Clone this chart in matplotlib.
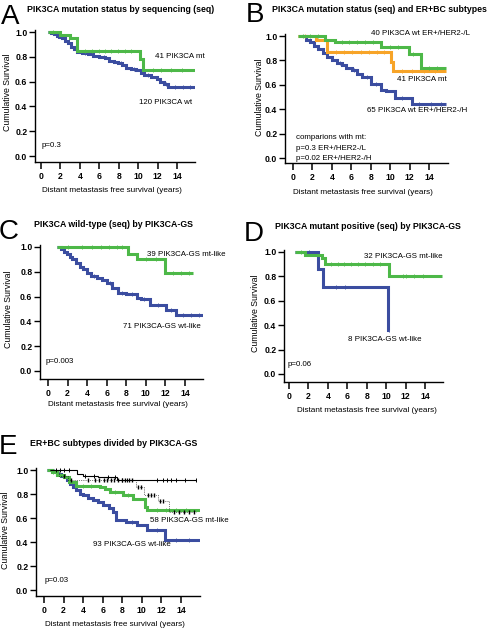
import numpy as np
import matplotlib
matplotlib.use("Agg")
import matplotlib.pyplot as plt

plt.rcParams['font.family'] = ['Liberation Sans', 'DejaVu Sans']

BLUE = '#3B4DA0'
GREEN = '#4DB848'
ORANGE = '#F7A428'

# ---- dados (anos, sobrevida) ----
# A
A_mt_t = [0.7, 2.0, 3.0, 3.7, 10.2, 10.5, 15.9]
A_mt_s = [1.0, 0.975, 0.95, 0.85, 0.78, 0.69, 0.69]
A_mt_c = [1.2, 4.5, 5.3, 6.0, 6.6, 7.2, 7.9, 8.6, 9.3, 11.5, 12.4, 13.4, 14.5]
A_wt_t = [0.7, 1.0, 1.3, 1.6, 1.9, 2.2, 2.5, 2.8, 3.1, 3.4, 3.7, 4.2, 4.8, 5.4, 6.0, 6.6,
          7.0, 7.5, 7.9, 8.3, 8.8, 9.3, 9.8, 10.3, 10.6, 11.3, 11.9, 12.3, 12.7, 13.1, 15.9]
A_wt_s = [1.0, 0.99, 0.98, 0.97, 0.96, 0.95, 0.93, 0.91, 0.88, 0.86, 0.84, 0.83, 0.82, 0.81, 0.80, 0.79,
          0.77, 0.76, 0.75, 0.73, 0.71, 0.70, 0.69, 0.67, 0.65, 0.64, 0.62, 0.60, 0.58, 0.56, 0.56]
A_wt_c = [1.5, 4.5, 6.5, 8.2, 9.6, 11.0, 12.9, 13.8, 14.6, 15.3]

# B
B_L_t = [0.5, 3.3, 4.3, 9.1, 11.9, 13.2, 15.8]
B_L_s = [1.0, 0.97, 0.95, 0.91, 0.85, 0.74, 0.74]
B_L_c = [1.0, 1.8, 2.6, 5.0, 5.8, 6.6, 7.4, 8.2, 10.0, 10.8, 12.4, 14.0, 14.8]
B_mt_t = [0.5, 2.4, 3.5, 10.1, 10.3, 15.8]
B_mt_s = [1.0, 0.97, 0.87, 0.79, 0.71, 0.71]
B_mt_c = [1.2, 4.4, 5.3, 6.1, 7.0, 7.8, 8.6, 9.4, 11.2, 12.3, 13.5, 14.6]
B_H_t = [0.9, 1.3, 1.75, 2.2, 2.6, 3.1, 3.5, 4.0, 4.5, 5.0, 5.5, 6.05, 6.6, 7.1, 8.0,
         9.1, 9.6, 10.5, 12.2, 15.8]
B_H_s = [1.0, 0.97, 0.95, 0.92, 0.89, 0.86, 0.83, 0.80, 0.78, 0.76, 0.74, 0.72, 0.69, 0.66, 0.61,
         0.56, 0.55, 0.49, 0.44, 0.44]
B_H_c = [4.8, 6.3, 7.6, 8.5, 11.2, 13.0, 14.2, 15.2]

# C
C_mt_t = [0.95, 8.2, 9.05, 12.0, 14.8]
C_mt_s = [1.0, 0.94, 0.90, 0.79, 0.79]
C_mt_c = [2.0, 3.5, 4.5, 5.4, 6.2, 7.0, 7.6, 10.0, 11.0, 12.8, 13.6, 14.4]
C_wt_t = [0.95, 1.3, 1.6, 1.9, 2.2, 2.5, 2.9, 3.3, 3.6, 3.95, 4.4, 5.0, 5.5, 6.0, 6.5,
          7.2, 8.0, 9.06, 9.5, 10.4, 12.1, 13.1, 15.9]
C_wt_s = [1.0, 0.98, 0.96, 0.94, 0.92, 0.90, 0.87, 0.84, 0.82, 0.79, 0.77, 0.75, 0.73, 0.71, 0.67,
          0.63, 0.62, 0.59, 0.58, 0.53, 0.49, 0.45, 0.45]
C_wt_c = [4.7, 6.3, 7.6, 8.6, 9.8, 11.2, 12.6, 13.8, 14.6, 15.4]

# D
D_mt_t = [0.6, 1.65, 3.4, 3.7, 10.3, 15.8]
D_mt_s = [1.0, 0.975, 0.95, 0.90, 0.80, 0.80]
D_mt_c = [1.2, 4.3, 5.0, 5.7, 6.4, 7.1, 7.8, 8.6, 9.4, 11.7, 12.0, 12.9, 13.8]
D_wt_t = [0.6, 3.0, 3.5, 10.2, 10.3]
D_wt_s = [1.0, 0.86, 0.71, 0.36, 0.36]
D_wt_c = [2.1, 4.8, 5.8, 10.3]

# E
E_wt_t = [0.3, 0.8, 1.3, 1.7, 2.0, 2.3, 2.7, 3.0, 3.3, 3.7, 4.0, 4.5, 5.0, 5.5, 6.06, 6.6,
          7.1, 7.4, 8.4, 9.5, 10.5, 12.4, 15.9]
E_wt_s = [1.0, 0.99, 0.97, 0.95, 0.94, 0.92, 0.88, 0.86, 0.83, 0.80, 0.79, 0.77, 0.75, 0.73, 0.71, 0.68,
          0.65, 0.58, 0.57, 0.54, 0.50, 0.42, 0.42]
E_wt_c = [1.0, 1.5, 9.0, 11.5, 13.5, 14.8]
E_mt_t = [0.3, 0.8, 1.3, 2.0, 2.6, 3.3, 5.7, 6.2, 6.7, 8.1, 9.1, 10.3, 10.5, 15.9]
E_mt_s = [1.0, 0.98, 0.96, 0.94, 0.90, 0.87, 0.86, 0.84, 0.82, 0.79, 0.76, 0.69, 0.67, 0.67]
E_mt_c = [0.9, 1.6, 4.0, 4.8, 7.3, 8.6, 11.5, 12.5, 13.5, 14.5]
E_L_t = [0.6, 3.4, 4.0, 5.5, 7.5, 15.5]
E_L_s = [1.0, 0.97, 0.95, 0.94, 0.92, 0.92]
E_L_c = [1.2, 1.6, 2.0, 2.6, 4.2, 5.1, 6.5, 7.3, 8.0, 8.5, 11.5, 12.2, 12.6, 13.0, 13.5, 14.4, 15.5]
E_H_t = [0.6, 1.5, 2.5, 9.4, 10.2, 11.6, 12.8, 15.5]
E_H_s = [1.0, 0.95, 0.92, 0.86, 0.79, 0.74, 0.65, 0.65]
E_H_c = [2.0, 2.8, 4.5, 5.2, 5.6, 6.1, 6.4, 6.8, 7.2, 7.6, 8.0, 8.3, 8.7, 9.0, 9.6, 9.9,
         10.6, 10.9, 11.2, 11.9, 12.2, 13.3, 13.8, 14.3, 14.8, 15.3]

xticks = [0, 2, 4, 6, 8, 10, 12, 14]
yticks = [0.0, 0.2, 0.4, 0.6, 0.8, 1.0]

W, H = 488, 630
fig = plt.figure(figsize=(W / 100, H / 100), dpi=100)


def painel(spine_x, x_end, x0, x14, y1, y0, xaxis):
    # eixo posicionado em pixels
    top = y1 - 6
    ax = fig.add_axes([spine_x / W, 1 - xaxis / H, (x_end - spine_x) / W, (xaxis - top) / H])
    sx = (x14 - x0) / 14.0
    sy = (y0 - y1)
    ax.set_xlim((spine_x - x0) / sx, (x_end - x0) / sx)
    ymin = -(xaxis - y0) / sy
    ax.set_ylim(ymin, (y0 - top) / sy)
    ax.spines['top'].set_visible(False)
    ax.spines['right'].set_visible(False)
    ax.spines['left'].set_bounds(ymin, 1.02)
    for sp in ['left', 'bottom']:
        ax.spines[sp].set_linewidth(1.0)
    ax.set_xticks(xticks)
    ax.set_yticks(yticks)
    ax.set_yticklabels(['%.1f' % v for v in yticks])
    ax.tick_params(axis='x', length=5, width=1.1, pad=2, labelsize=6.2)
    ax.tick_params(axis='y', length=4, width=1.0, pad=1.5, labelsize=6.2)
    for lab in ax.get_xticklabels() + ax.get_yticklabels():
        lab.set_fontweight('bold')
    ax.patch.set_visible(False)
    return ax


def km(ax, t, s, cor, lw=2.2, cens=None, ls='-', ms=3.0, mew=0.6):
    t = np.array(t)
    s = np.array(s)
    ax.step(t, s, where='post', color=cor, lw=lw, ls=ls, solid_joinstyle='miter',
            solid_capstyle='butt')
    if cens is not None:
        c = np.array(cens)
        y = s[np.searchsorted(t, c, side='right') - 1]
        ax.plot(c, y, '|', color=cor, ms=ms, mew=mew)


def txt(x, y, s, **kw):
    fig.text(x / W, 1 - y / H, s, **kw)


def rotulos(letra, lx, ly, titulo, tx, ty, ylx, yly, xlx, xly):
    txt(lx, ly, letra, fontsize=20, ha='center', va='center')
    txt(tx, ty, titulo, fontsize=6.3, fontweight='bold', ha='left', va='center')
    txt(ylx, yly, 'Cumulative Survival', fontsize=6.3, rotation=90, ha='center', va='center')
    txt(xlx, xly, 'Distant metastasis free survival (years)', fontsize=5.9, ha='center', va='center')


ann = dict(fontsize=5.7, ha='left', va='center')

# A
ax = painel(35, 195, 41, 177, 32, 156, 162)
km(ax, A_wt_t, A_wt_s, BLUE, cens=A_wt_c)
km(ax, A_mt_t, A_mt_s, GREEN, cens=A_mt_c)
ax.text(11.75, 0.80, '41 PIK3CA mt', **ann)
ax.text(10.1, 0.43, '120 PIK3CA wt', **ann)
ax.text(0.05, 0.083, 'p=0.3', **ann)
rotulos('A', 10, 17, 'PIK3CA mutation status by sequencing (seq)', 27, 10, 8, 92, 112, 190)

# B
ax = painel(285, 448, 293, 429, 36, 158, 163)
km(ax, B_H_t, B_H_s, BLUE, cens=B_H_c)
km(ax, B_mt_t, B_mt_s, ORANGE, cens=B_mt_c)
km(ax, B_L_t, B_L_s, GREEN, cens=B_L_c)
ax.text(8.0, 1.02, '40 PIK3CA wt ER+/HER2-/L', **ann)
ax.text(10.7, 0.64, '41 PIK3CA mt', **ann)
ax.text(7.6, 0.39, '65 PIK3CA wt ER+/HER2-/H', **ann)
ax.text(0.3, 0.165, 'comparions with mt:', **ann)
ax.text(0.3, 0.075, 'p=0.3 ER+/HER2-/L', **ann)
ax.text(0.3, -0.005, 'p=0.02 ER+/HER2-/H', **ann)
rotulos('B', 255, 15, 'PIK3CA mutation status (seq) and ER+BC subtypes', 272, 10, 259, 97, 363, 193)

# C
ax = painel(40, 203, 48, 185, 247, 371, 379)
km(ax, C_wt_t, C_wt_s, BLUE, cens=C_wt_c)
km(ax, C_mt_t, C_mt_s, GREEN, cens=C_mt_c)
ax.text(10.08, 0.943, '39 PIK3CA-GS mt-like', **ann)
ax.text(7.63, 0.357, '71 PIK3CA-GS wt-like', **ann)
ax.text(-0.24, 0.075, 'p=0.003', **ann)
rotulos('C', 9, 232, 'PIK3CA wild-type (seq) by PIK3CA-GS', 34, 224, 9, 309, 118, 405)

# D
ax = painel(284, 443, 289, 425, 252, 374, 382)
km(ax, D_wt_t, D_wt_s, BLUE, cens=D_wt_c)
km(ax, D_mt_t, D_mt_s, GREEN, cens=D_mt_c)
ax.text(7.76, 0.967, '32 PIK3CA-GS mt-like', **ann)
ax.text(6.1, 0.28, '8 PIK3CA-GS wt-like', **ann)
ax.text(-0.13, 0.08, 'p=0.06', **ann)
rotulos('D', 254, 234, 'PIK3CA mutant positive (seq) by PIK3CA-GS', 275, 226, 256, 313, 367, 411)

# E
ax = painel(36, 200, 44, 181, 470, 590, 596)
km(ax, E_wt_t, E_wt_s, BLUE, cens=E_wt_c)
km(ax, E_mt_t, E_mt_s, GREEN, cens=E_mt_c)
km(ax, E_H_t, E_H_s, 'black', lw=0.5, ls=':', cens=E_H_c, ms=3.5, mew=1.0)
km(ax, E_L_t, E_L_s, 'black', lw=0.8, cens=E_L_c, ms=3.5, mew=0.7)
ax.text(10.8, 0.575, '58 PIK3CA-GS mt-like', **ann)
ax.text(4.97, 0.38, '93 PIK3CA-GS wt-like', **ann)
ax.text(0.1, 0.075, 'p=0.03', **ann)
rotulos('E', 8, 447, 'ER+BC subtypes divided by PIK3CA-GS', 30, 443, 6, 530, 115, 624)

fig.savefig('out.png', dpi=100)
